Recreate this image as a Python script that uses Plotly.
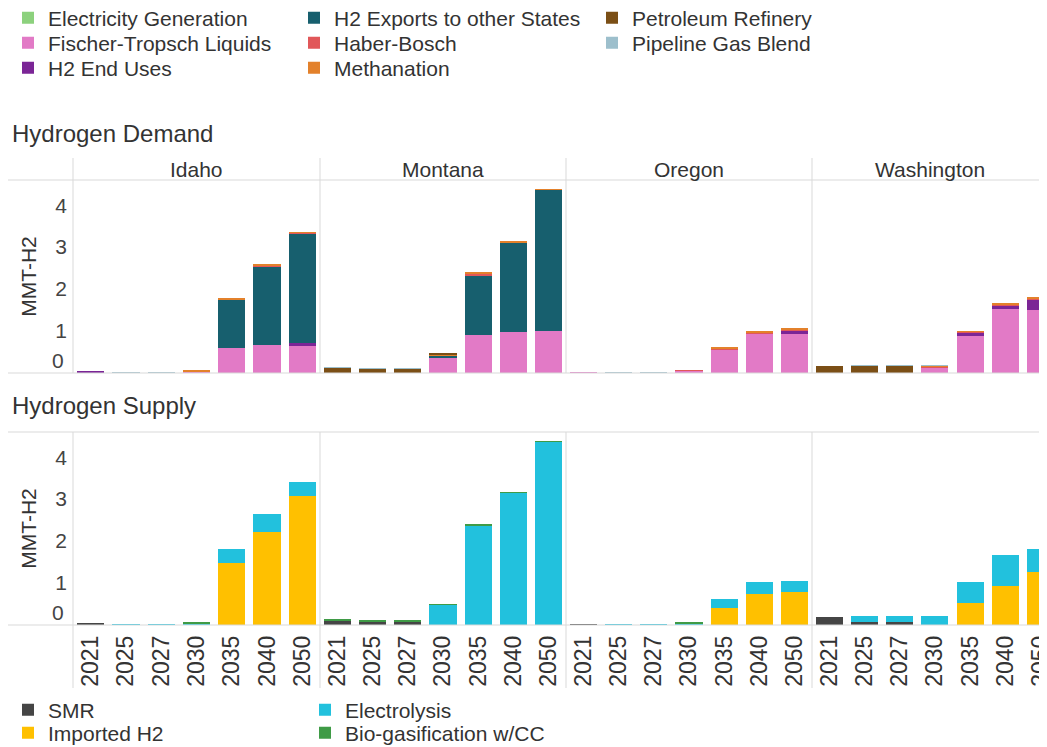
import plotly.graph_objects as go
from plotly.subplots import make_subplots

# %% Data (MMT-H2)
years = ["2021", "2025", "2027", "2030", "2035", "2040", "2050"]
states = ["Idaho", "Montana", "Oregon", "Washington"]

# Hydrogen demand by end use
electricity_generation = {
    "Idaho":      [0, 0.01, 0.01, 0, 0, 0, 0],
    "Montana":    [0, 0, 0, 0, 0, 0, 0],
    "Oregon":     [0, 0.01, 0.01, 0, 0.01, 0, 0],
    "Washington": [0, 0, 0, 0, 0, 0, 0],
}
fischer_tropsch = {
    "Idaho":      [0.02, 0, 0, 0.03, 0.60, 0.67, 0.64],
    "Montana":    [0, 0, 0, 0.38, 0.90, 0.97, 1.00],
    "Oregon":     [0.02, 0, 0, 0.06, 0.56, 0.94, 0.94],
    "Washington": [0, 0, 0, 0.13, 0.89, 1.52, 1.50],
}
h2_end_uses = {
    "Idaho":      [0.01, 0, 0, 0, 0, 0, 0.07],
    "Montana":    [0, 0, 0, 0, 0, 0, 0],
    "Oregon":     [0, 0, 0, 0, 0, 0.01, 0.07],
    "Washington": [0, 0, 0, 0, 0.08, 0.10, 0.26],
}
h2_exports = {
    "Idaho":      [0, 0, 0, 0, 1.15, 1.88, 2.62],
    "Montana":    [0, 0, 0, 0.03, 1.43, 2.13, 3.37],
    "Oregon":     [0, 0, 0, 0, 0, 0, 0],
    "Washington": [0, 0, 0, 0, 0, 0, 0],
}
haber_bosch = {
    "Idaho":      [0, 0, 0, 0.01, 0.01, 0.02, 0.02],
    "Montana":    [0, 0, 0, 0.01, 0.03, 0.02, 0],
    "Oregon":     [0, 0, 0, 0.01, 0.02, 0.02, 0.02],
    "Washington": [0, 0, 0, 0.02, 0.01, 0.02, 0.01],
}
methanation = {
    "Idaho":      [0, 0, 0, 0.02, 0.01, 0.01, 0.01],
    "Montana":    [0.01, 0.01, 0.01, 0.01, 0.03, 0.03, 0.01],
    "Oregon":     [0, 0, 0, 0, 0.02, 0.01, 0.02],
    "Washington": [0, 0, 0, 0.02, 0.02, 0.02, 0.02],
}
petroleum_refinery = {
    "Idaho":      [0, 0, 0, 0, 0, 0, 0],
    "Montana":    [0.11, 0.09, 0.09, 0.05, 0, 0, 0],
    "Oregon":     [0, 0, 0, 0, 0, 0, 0],
    "Washington": [0.17, 0.18, 0.18, 0.01, 0, 0, 0],
}
pipeline_gas_blend = {
    "Idaho":      [0, 0.01, 0.01, 0, 0, 0, 0],
    "Montana":    [0.01, 0.01, 0.01, 0, 0, 0, 0],
    "Oregon":     [0, 0.01, 0.01, 0, 0, 0, 0],
    "Washington": [0, 0.01, 0.01, 0.01, 0, 0, 0],
}

# Hydrogen supply by source
smr = {
    "Idaho":      [0.03, 0, 0, 0, 0, 0, 0],
    "Montana":    [0.10, 0.09, 0.09, 0, 0, 0, 0],
    "Oregon":     [0.02, 0, 0, 0, 0, 0, 0],
    "Washington": [0.18, 0.08, 0.07, 0, 0, 0, 0],
}
imported_h2 = {
    "Idaho":      [0, 0, 0, 0, 1.47, 2.22, 3.07],
    "Montana":    [0, 0, 0, 0, 0, 0, 0],
    "Oregon":     [0, 0, 0, 0, 0.40, 0.73, 0.78],
    "Washington": [0, 0, 0, 0, 0.52, 0.94, 1.27],
}
electrolysis = {
    "Idaho":      [0, 0.02, 0.02, 0.02, 0.33, 0.42, 0.33],
    "Montana":    [0, 0, 0, 0.49, 2.38, 3.15, 4.37],
    "Oregon":     [0, 0.02, 0.02, 0.04, 0.21, 0.29, 0.28],
    "Washington": [0, 0.13, 0.14, 0.21, 0.50, 0.74, 0.55],
}
bio_gasification = {
    "Idaho":      [0, 0, 0, 0.05, 0, 0, 0],
    "Montana":    [0.02, 0.02, 0.02, 0.01, 0.01, 0.01, 0.01],
    "Oregon":     [0, 0, 0, 0.03, 0, 0, 0],
    "Washington": [0, 0, 0, 0, 0, 0, 0],
}

demand_series = [
    ("Electricity Generation", electricity_generation),
    ("Fischer-Tropsch Liquids", fischer_tropsch),
    ("H2 End Uses", h2_end_uses),
    ("H2 Exports to other States", h2_exports),
    ("Haber-Bosch", haber_bosch),
    ("Methanation", methanation),
    ("Petroleum Refinery", petroleum_refinery),
    ("Pipeline Gas Blend", pipeline_gas_blend),
]
supply_series = [
    ("SMR", smr),
    ("Imported H2", imported_h2),
    ("Electrolysis", electrolysis),
    ("Bio-gasification w/CC", bio_gasification),
]

colors = {
    "Electricity Generation": "#8cd17d",
    "Fischer-Tropsch Liquids": "#e27ac6",
    "H2 End Uses": "#7b2596",
    "H2 Exports to other States": "#175f6e",
    "Haber-Bosch": "#e15759",
    "Methanation": "#e3812b",
    "Petroleum Refinery": "#7b4f16",
    "Pipeline Gas Blend": "#9dbfcc",
    "SMR": "#454545",
    "Imported H2": "#ffc000",
    "Electrolysis": "#22c1dd",
    "Bio-gasification w/CC": "#3f9b46",
}

FONT = "Liberation Sans, Arial, sans-serif"
TXT = "#333333"
LINE = "#d9d9d9"

# %% Geometry: positions below are page pixels; the page body adds an 8px margin
OFF = 8
W_FIG, H_FIG = 1047 - OFF, 747 - OFF
PLOT_L, PLOT_T, PLOT_B = 73, 180, 625          # page pixels
L, T = PLOT_L - OFF, PLOT_T - OFF
B = H_FIG - (PLOT_B - OFF)
R = 0
PW = W_FIG - L - R
PH = H_FIG - T - B


def fx(p):
    return (p - OFF - L) / PW


def fy(p):
    return (H_FIG - B - (p - OFF)) / PH


col_edges = [73, 320, 566, 812, 1047]
demand_dom = [fy(373), fy(180)]
supply_dom = [fy(625), fy(432)]

# legend column widths (px) so the entry texts line up with the original columns
demand_col_w = [241, 253, 253]
supply_col_w = [252, 252]

fig = make_subplots(rows=2, cols=4, horizontal_spacing=0, vertical_spacing=0.1)

# %% Bars
for row, series, nleg, col_w in [(1, demand_series, 3, demand_col_w),
                                 (2, supply_series, 2, supply_col_w)]:
    for i, (name, values) in enumerate(series):
        k = i % nleg + (1 if row == 1 else 4)
        leg = "legend" if k == 1 else f"legend{k}"
        for c, st in enumerate(states):
            fig.add_trace(go.Bar(x=years, y=values[st], name=name,
                                 marker_color=colors[name], marker_line_width=0,
                                 legendgroup=name, legend=leg,
                                 legendwidth=col_w[i // nleg],
                                 showlegend=(c == 0),
                                 hovertemplate=st + " %{x}<br>" + name + ": %{y:.2f}<extra></extra>"),
                          row=row, col=c + 1)

# %% Axes
for row in (1, 2):
    for c in range(4):
        n = (row - 1) * 4 + c + 1
        sx = "" if n == 1 else str(n)
        rng = [-0.5, 6.5] if c < 3 else [-0.5, 6.19]
        fig.layout["xaxis" + sx].update(
            domain=[fx(col_edges[c]), fx(col_edges[c + 1])],
            type="category", categoryarray=years, range=rng,
            showgrid=False, zeroline=False, showline=False, ticks="",
            showticklabels=(row == 2), tickangle=-90, ticklabelstandoff=5,
            tickfont=dict(size=23, color=TXT, family=FONT))
        fig.layout["yaxis" + sx].update(
            domain=demand_dom if row == 1 else supply_dom,
            range=[0, 4.6], tickvals=[1, 2, 3, 4],
            showgrid=False, zeroline=False, showline=False, ticks="",
            showticklabels=(c == 0), ticklabelstandoff=5,
            tickfont=dict(size=21, color="#444444", family=FONT))
        if c == 0:
            fig.layout["yaxis" + sx].update(
                title=dict(text="MMT-H2", standoff=12,
                           font=dict(size=21, color=TXT, family=FONT)))
            # Tableau lifts the bottom "0" label inside the pane
            fig.add_annotation(text="0", xref="paper", x=fx(66), xanchor="right",
                               yref="y" + sx, y=0, yanchor="middle", yshift=13,
                               showarrow=False, font=dict(size=21, color="#444444", family=FONT))
        # state header
        if row == 1:
            fig.add_annotation(text=states[c], xref="x" + sx + " domain", x=0.5,
                               yref="paper", y=fy(169), yanchor="middle",
                               showarrow=False, font=dict(size=21, color=TXT, family=FONT))

# section titles
for txt, py in [("Hydrogen Demand", 133), ("Hydrogen Supply", 405)]:
    fig.add_annotation(text=txt, xref="paper", x=fx(10), xanchor="left",
                       yref="paper", y=fy(py), yanchor="middle", showarrow=False,
                       font=dict(size=24, color=TXT, family=FONT))

# %% Separator lines
shapes = []
for top, base in [(180, 373), (432, 625)]:
    for py in (top, base):
        shapes.append(dict(type="line", xref="paper", yref="paper",
                           x0=fx(8), x1=fx(1047), y0=fy(py), y1=fy(py),
                           line=dict(color=LINE, width=1)))
for px in col_edges[:4]:
    shapes.append(dict(type="line", xref="paper", yref="paper", x0=fx(px), x1=fx(px),
                       y0=fy(158), y1=fy(373), line=dict(color=LINE, width=1)))
    shapes.append(dict(type="line", xref="paper", yref="paper", x0=fx(px), x1=fx(px),
                       y0=fy(432), y1=fy(688), line=dict(color=LINE, width=1)))


# %% Legends: one horizontal legend per row, like the Tableau colour legend
def row_legend(py):
    return dict(orientation="h", xref="container", yref="container",
                x=0, y=1 - (py - OFF) / H_FIG, xanchor="left", yanchor="middle",
                entrywidthmode="pixels", bgcolor="rgba(0,0,0,0)",
                font=dict(size=21, color=TXT, family=FONT))


fig.update_layout(
    legend=row_legend(18), legend2=row_legend(43), legend3=row_legend(68),
    legend4=row_legend(710), legend5=row_legend(733),
    barmode="stack", bargap=0.23,
    width=W_FIG, height=H_FIG,
    margin=dict(l=L, r=R, t=T, b=B, autoexpand=False),
    plot_bgcolor="white", paper_bgcolor="white",
    font=dict(family=FONT, color=TXT),
    shapes=shapes,
)

fig.write_html("out.html")
